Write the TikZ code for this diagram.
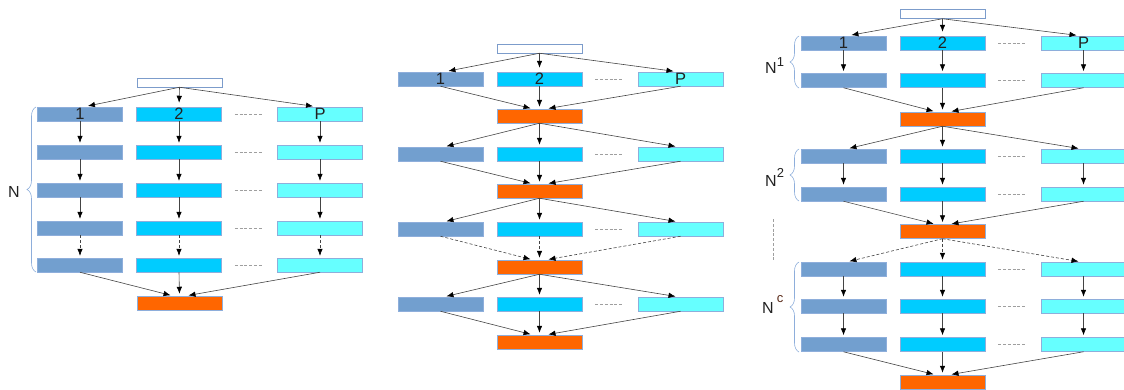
\documentclass[tikz,border=0pt]{standalone}
\usepackage{fontspec}
\setmainfont{Liberation Sans}
\usetikzlibrary{arrows.meta,decorations.pathreplacing}
\definecolor{cA}{HTML}{729FCF}
\definecolor{cB}{HTML}{00CCFF}
\definecolor{cC}{HTML}{66FFFF}
\definecolor{cO}{HTML}{FF6600}
\definecolor{bord}{HTML}{8EAEDB}
\definecolor{wbord}{HTML}{7C9CCB}
\definecolor{arr}{HTML}{444444}
\definecolor{labc}{HTML}{222222}
\definecolor{supc}{HTML}{5A2A18}
\newcommand\trirow[6]{%
  \node[ba] (#1a) at (#2,#3) {#4};
  \node[bb] (#1b) at (#2+99,#3) {#5};
  \node[bc] (#1c) at (#2+240,#3) {#6};
  \draw[dots] ([xshift=13pt]#1b.east) -- ([xshift=-15pt]#1c.west);
}
\newcommand\convg[3]{%
  \draw[#3] (#1a.south) -- ([xshift=-7pt]#2.north);
  \draw[#3] (#1b.south) -- (#2.north);
  \draw[#3] (#1c.south) -- ([xshift=7pt]#2.north);
}
\newcommand\divg[3]{%
  \draw[#3] (#1.south) -- ([xshift=4pt]#2a.north);
  \draw[#3] (#1.south) -- (#2b.north);
  \draw[#3] (#1.south) -- ([xshift=-3pt]#2c.north);
}
\newcommand\vtrow[3]{%
  \draw[#3] (#1a.south) -- (#2a.north);
  \draw[#3] (#1b.south) -- (#2b.north);
  \draw[#3] (#1c.south) -- (#2c.north);
}
\begin{document}
\begin{tikzpicture}[x=1pt,y=-1pt,
  bx/.style={draw=bord, line width=0.5pt, minimum width=85pt, minimum height=14pt,
    inner sep=0pt, font=\fontsize{16.5}{16.5}\selectfont, text=labc},
  ba/.style={bx, fill=cA},
  bb/.style={bx, fill=cB},
  bc/.style={bx, fill=cC},
  bo/.style={bx, fill=cO},
  bw/.style={bx, draw=wbord, fill=white, minimum height=9pt},
  ar/.style={draw=arr, line width=0.6pt, -{Latex[length=7pt,width=5.5pt,color=black]}, shorten >=2pt},
  dar/.style={ar, dash pattern=on 3pt off 2pt},
  dots/.style={draw=gray!75, line width=0.5pt, dash pattern=on 3pt off 1.8pt},
  br/.style={draw=bord, line width=0.6pt, decorate, decoration={brace, amplitude=9pt}},
  lab/.style={font=\fontsize{16}{16}\selectfont, text=labc, inner sep=0pt, anchor=base west}
]
\useasboundingbox (0,0) rectangle (1124,389);

% ---------------- left diagram ----------------
\node[bw] (Lt) at (179.5,82.5) {};
\trirow{L1}{80}{114}{1}{2}{P}
\trirow{L2}{80}{152}{}{}{}
\trirow{L3}{80}{190}{}{}{}
\trirow{L4}{80}{228}{}{}{}
\trirow{L5}{80}{265}{}{}{}
\node[bo] (Lo) at (179.5,303) {};
\divg{Lt}{L1}{ar,shorten >=4pt}
\vtrow{L1}{L2}{ar}
\vtrow{L2}{L3}{ar}
\vtrow{L3}{L4}{ar}
\vtrow{L4}{L5}{dar}
\convg{L5}{Lo}{ar}
\draw[br] (36,272) -- (36,107);
\node[lab] (LN) at (8,197) {N};

% ---------------- middle diagram ----------------
\node[bw] (Mt) at (539.5,48.5) {};
\trirow{M1}{440.5}{79}{1}{2}{P}
\node[bo] (Mo1) at (539.5,116) {};
\trirow{M2}{440.5}{154}{}{}{}
\node[bo] (Mo2) at (539.5,191) {};
\trirow{M3}{440.5}{229}{}{}{}
\node[bo] (Mo3) at (539.5,267) {};
\trirow{M4}{440.5}{304}{}{}{}
\node[bo] (Mo4) at (539.5,342) {};
\divg{Mt}{M1}{ar,shorten >=4pt}
\convg{M1}{Mo1}{ar}
\divg{Mo1}{M2}{ar}
\convg{M2}{Mo2}{ar}
\divg{Mo2}{M3}{ar}
\convg{M3}{Mo3}{dar}
\divg{Mo3}{M4}{ar}
\convg{M4}{Mo4}{ar}

% ---------------- right diagram ----------------
\node[bw] (Rt) at (942.5,14) {};
\trirow{R1}{843.5}{43}{1}{2}{P}
\trirow{R2}{843.5}{80.5}{}{}{}
\node[bo] (Ro1) at (942.5,119) {};
\trirow{R3}{843.5}{156}{}{}{}
\trirow{R4}{843.5}{194}{}{}{}
\node[bo] (Ro2) at (942.5,231.5) {};
\trirow{R5}{843.5}{269}{}{}{}
\trirow{R6}{843.5}{306}{}{}{}
\trirow{R7}{843.5}{344.5}{}{}{}
\node[bo] (Ro3) at (942.5,382) {};
\divg{Rt}{R1}{ar,shorten >=4pt}
\vtrow{R1}{R2}{ar}
\convg{R2}{Ro1}{ar}
\divg{Ro1}{R3}{ar}
\vtrow{R3}{R4}{ar}
\convg{R4}{Ro2}{ar}
\divg{Ro2}{R5}{dar}
\vtrow{R5}{R6}{ar}
\vtrow{R6}{R7}{ar}
\convg{R7}{Ro3}{ar}
\draw[br] (799,88) -- (799,36);
\draw[br] (799,201) -- (799,149);
\draw[br] (799,352) -- (799,262);
\node[lab] (RN1) at (765,73) {N\raisebox{7pt}{\fontsize{13}{13}\selectfont 1}};
\node[lab] (RN2) at (765,186) {N\raisebox{9pt}{\fontsize{13}{13}\selectfont 2}};
\node[lab] (RNc) at (762,313) {N\hspace{3pt}\raisebox{11pt}{\fontsize{13}{13}\selectfont\color{supc}c}};
\draw[dots] (773,219) -- (773,262);
\end{tikzpicture}
\end{document}
